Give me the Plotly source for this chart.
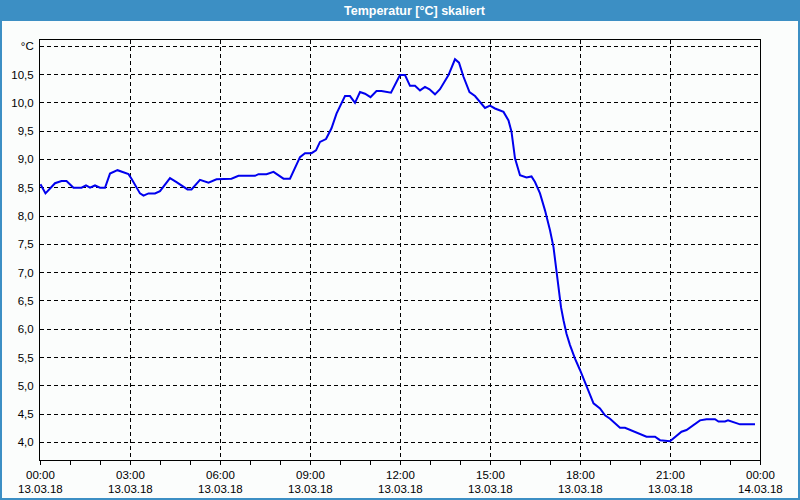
import plotly.graph_objects as go

# time of day (13.03.2018) and temperature in °C
times = ["00:01", "00:11", "00:30", "00:43", "00:53", "01:07", "01:23", "01:32", "01:40", "01:50",
         "02:00", "02:10", "02:20", "02:35", "02:57", "03:03", "03:20", "03:27", "03:37", "03:50",
         "04:00", "04:20", "04:33", "04:55", "05:03", "05:20", "05:37", "05:53", "06:23", "06:37",
         "07:10", "07:17", "07:33", "07:47", "08:07", "08:20", "08:40", "08:50", "09:03", "09:12",
         "09:20", "09:32", "09:43", "09:53", "10:10", "10:20", "10:30", "10:40", "10:50", "11:01",
         "11:13", "11:23", "11:42", "12:00", "12:10", "12:20", "12:30", "12:40", "12:50", "12:59",
         "13:10", "13:20", "13:37", "13:50", "13:58", "14:07", "14:19", "14:30", "14:50", "15:00",
         "15:10", "15:27", "15:37", "15:43", "15:50", "16:00", "16:13", "16:23", "16:30", "16:40",
         "16:50", "17:00", "17:07", "17:12", "17:17", "17:22", "17:27", "17:33", "17:40", "17:50",
         "18:00", "18:13", "18:27", "18:40", "18:50", "19:00", "19:20", "19:30", "19:40", "19:56",
         "20:13", "20:30", "20:40", "21:00", "21:10", "21:23", "21:33", "21:47", "22:00", "22:13",
         "22:30", "22:37", "22:50", "22:56", "23:07", "23:20", "23:50"]
temps = [8.56, 8.40, 8.58, 8.62, 8.62, 8.50, 8.50, 8.54, 8.50, 8.54,
         8.50, 8.50, 8.75, 8.81, 8.74, 8.66, 8.40, 8.36, 8.40, 8.40,
         8.44, 8.67, 8.60, 8.47, 8.47, 8.64, 8.59, 8.65, 8.66, 8.71,
         8.71, 8.74, 8.74, 8.78, 8.66, 8.66, 9.04, 9.11, 9.11, 9.16,
         9.31, 9.36, 9.55, 9.81, 10.12, 10.12, 10.00, 10.19, 10.16, 10.10,
         10.21, 10.21, 10.18, 10.49, 10.49, 10.30, 10.30, 10.22, 10.28, 10.24,
         10.15, 10.24, 10.49, 10.77, 10.71, 10.46, 10.19, 10.12, 9.91, 9.95,
         9.90, 9.84, 9.69, 9.49, 9.02, 8.72, 8.68, 8.70, 8.60, 8.40,
         8.10, 7.75, 7.45, 7.10, 6.75, 6.39, 6.16, 5.92, 5.72, 5.48,
         5.28, 5.01, 4.69, 4.60, 4.48, 4.42, 4.26, 4.26, 4.22, 4.17,
         4.10, 4.10, 4.04, 4.02, 4.10, 4.19, 4.22, 4.30, 4.39, 4.41,
         4.41, 4.37, 4.37, 4.39, 4.36, 4.32, 4.32]

x_tick_vals = ["2018-03-13 00:00", "2018-03-13 03:00", "2018-03-13 06:00", "2018-03-13 09:00",
               "2018-03-13 12:00", "2018-03-13 15:00", "2018-03-13 18:00", "2018-03-13 21:00",
               "2018-03-14 00:00"]
x_tick_time = ["00:00", "03:00", "06:00", "09:00", "12:00", "15:00", "18:00", "21:00", "00:00"]
x_tick_date = ["13.03.18", "13.03.18", "13.03.18", "13.03.18", "13.03.18", "13.03.18",
               "13.03.18", "13.03.18", "14.03.18"]
y_tick_vals = [4.0, 4.5, 5.0, 5.5, 6.0, 6.5, 7.0, 7.5, 8.0, 8.5, 9.0, 9.5, 10.0, 10.5, 11.0]
y_tick_text = ["4,0", "4,5", "5,0", "5,5", "6,0", "6,5", "7,0", "7,5", "8,0", "8,5",
               "9,0", "9,5", "10,0", "10,5", "°C"]
title_text = "Temperatur [°C] skaliert"

x_vals = ["2018-03-13 " + t for t in times]

W, H = 800, 500
ML, MR, MT, MB = 40, 40, 40, 40
PW, PH = W - ML - MR, H - MT - MB


def px_x(p):
    return (p - ML) / PW


def px_y(p):
    return (H - MB - p) / PH


BLUE = "#3c8fc4"
BG = "#fbfdfc"
FONT = "Liberation Sans"

fig = go.Figure()
fig.add_trace(go.Scatter(x=x_vals, y=temps, mode="lines",
                         line=dict(color="#0000ee", width=2), hoverinfo="skip"))

shapes = [
    # title bar
    dict(type="rect", xref="paper", yref="paper", x0=px_x(0), x1=px_x(W), y0=px_y(21), y1=px_y(0),
         fillcolor=BLUE, line=dict(width=0), layer="above"),
    # window borders
    dict(type="rect", xref="paper", yref="paper", x0=px_x(0), x1=px_x(2), y0=px_y(H), y1=px_y(21),
         fillcolor=BLUE, line=dict(width=0), layer="above"),
    dict(type="rect", xref="paper", yref="paper", x0=px_x(W - 2), x1=px_x(W), y0=px_y(H), y1=px_y(21),
         fillcolor=BLUE, line=dict(width=0), layer="above"),
    dict(type="rect", xref="paper", yref="paper", x0=px_x(0), x1=px_x(W), y0=px_y(H), y1=px_y(H - 2),
         fillcolor=BLUE, line=dict(width=0), layer="above"),
]

annotations = [dict(text="<b>" + title_text + "</b>", xref="paper", yref="paper",
                    x=px_x(415), y=px_y(10.5), xanchor="center", yanchor="middle",
                    showarrow=False, font=dict(family=FONT, size=12.5, color="white"))]
for tv, tt, td in zip(x_tick_vals, x_tick_time, x_tick_date):
    annotations.append(dict(text=tt, x=tv, xref="x", yref="paper", y=px_y(475),
                            xanchor="center", yanchor="middle", showarrow=False,
                            font=dict(family=FONT, size=11.5, color="black")))
    annotations.append(dict(text=td, x=tv, xref="x", yref="paper", y=px_y(489),
                            xanchor="center", yanchor="middle", showarrow=False,
                            font=dict(family=FONT, size=11.5, color="black")))

fig.update_layout(
    width=W, height=H,
    margin=dict(l=ML, r=MR, t=MT, b=MB, autoexpand=False),
    paper_bgcolor=BG, plot_bgcolor=BG,
    showlegend=False,
    font=dict(family=FONT, size=11.5, color="#000000"),
    shapes=shapes,
    annotations=annotations,
)

fig.update_xaxes(
    type="date", automargin=False,
    range=["2018-03-13 00:00", "2018-03-14 00:00"],
    tickmode="array", tickvals=x_tick_vals, showticklabels=False,
    ticks="outside", ticklen=4, tickcolor="black", tickwidth=1,
    minor=dict(dtick=3600000, ticks="outside", ticklen=4, tickcolor="black", showgrid=False),
    showgrid=True, gridcolor="black", gridwidth=1, griddash="4px,3px",
    showline=True, linecolor="black", linewidth=1, mirror=True,
    zeroline=False,
)
fig.update_yaxes(
    automargin=False,
    range=[3.69, 11.11],
    tickmode="array", tickvals=y_tick_vals, ticktext=y_tick_text,
    ticks="", ticklabelstandoff=3,
    showgrid=True, gridcolor="black", gridwidth=1, griddash="4px,3px",
    showline=True, linecolor="black", linewidth=1, mirror=True,
    zeroline=False,
)

fig.write_html("out.html")
